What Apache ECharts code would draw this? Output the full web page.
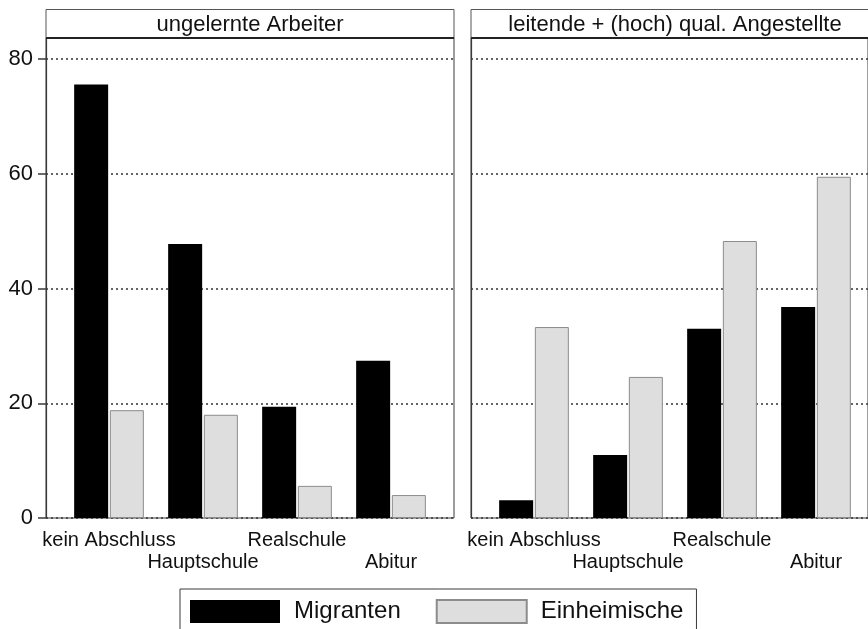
<!DOCTYPE html>
<html>
<head>
<meta charset="utf-8">
<script src="https://cdn.jsdelivr.net/npm/echarts@6/dist/echarts.min.js"></script>
<style>html,body{margin:0;padding:0;background:#fff}#c{width:868px;height:629px}</style>
</head>
<body>
<div id="c"></div>
<script>
const categories = ['kein Abschluss', 'Hauptschule', 'Realschule', 'Abitur'];
const panelTitles = ['ungelernte Arbeiter', 'leitende + (hoch) qual. Angestellte'];
const seriesNames = ['Migranten', 'Einheimische'];
const migrantenLeft = [75.6, 47.8, 19.4, 27.4];
const einheimischeLeft = [18.8, 18.0, 5.6, 4.0];
const migrantenRight = [3.1, 11.0, 33.0, 36.8];
const einheimischeRight = [33.3, 24.6, 48.3, 59.5];
const yTicks = [0, 20, 40, 60, 80];
const yMax = 83.7;

const FONT = "'Liberation Sans', Arial, sans-serif";
const frameColor = '#3a3a3a';
const chart = echarts.init(document.getElementById('c'), null, {renderer: 'canvas'});

const panelLeft = [46, 471];
const panelWidth = 408;
const dataInset = 16;
const gridTop = 38, gridBottom = 111;

const grids = [];
const xAxes = [];
const yAxes = [];
// background frame grids
panelLeft.forEach((l, i) => {
  grids.push({left: l, width: panelWidth, top: gridTop, bottom: gridBottom, show: true, borderColor: frameColor, borderWidth: 1, backgroundColor: 'transparent', containLabel: false});
  xAxes.push({type: 'value', gridIndex: i, min: 0, max: 1, show: false});
  yAxes.push({
    type: 'value', gridIndex: i, min: 0, max: yMax, interval: 20,
    axisLine: {show: true, lineStyle: {color: frameColor, width: 1.2}},
    axisTick: {show: i === 0, length: 8, inside: false, lineStyle: {color: frameColor, width: 1.5}, customValues: yTicks},
    axisLabel: {show: i === 0, fontSize: 22, fontFamily: FONT, color: '#111', margin: 13, customValues: yTicks},
    splitLine: {show: true, lineStyle: {color: '#333', type: [2, 3], width: 1.5}}
  });
});
// data grids
panelLeft.forEach((l, i) => {
  grids.push({left: l + dataInset, width: panelWidth - 2 * dataInset, top: gridTop, bottom: gridBottom, show: false, containLabel: false});
  xAxes.push({
    type: 'category', gridIndex: 2 + i, data: categories, boundaryGap: true,
    axisLine: {show: false}, axisTick: {show: false},
    axisLabel: {
      interval: 0, fontSize: 20, fontFamily: FONT, color: '#111', margin: 11, lineHeight: 22,
      formatter: (v, idx) => (idx % 2 ? '\n' + v : v)
    }
  });
  yAxes.push({type: 'value', gridIndex: 2 + i, min: 0, max: yMax, show: false, splitLine: {show: false}});
});

const blackStyle = {color: '#000', borderColor: '#000', borderWidth: 0};
const grayStyle = {color: '#dedede', borderColor: '#8c8c8c', borderWidth: 1};
const dataSets = [[migrantenLeft, einheimischeLeft], [migrantenRight, einheimischeRight]];
const series = [];
dataSets.forEach((pair, i) => {
  series.push({name: seriesNames[0], type: 'bar', xAxisIndex: 2 + i, yAxisIndex: 2 + i, data: pair[0], barWidth: 34, barGap: '5%', itemStyle: blackStyle, emphasis: {disabled: true}});
  series.push({name: seriesNames[1], type: 'bar', xAxisIndex: 2 + i, yAxisIndex: 2 + i, data: pair[1], barWidth: 34, barGap: '5%', itemStyle: grayStyle, emphasis: {disabled: true}});
});

const graphics = [];
panelLeft.forEach((l, i) => {
  graphics.push({type: 'rect', shape: {x: l, y: 9.5, width: panelWidth, height: 28.5}, style: {fill: '#fff', stroke: '#555', lineWidth: 1}, z: 10, silent: true});
  graphics.push({type: 'line', shape: {x1: l, y1: 38, x2: l + panelWidth, y2: 38}, style: {stroke: '#222', lineWidth: 2}, z: 11, silent: true});
  graphics.push({type: 'text', x: l + panelWidth / 2, y: 25, style: {text: panelTitles[i], font: '22px ' + FONT, fill: '#111', textAlign: 'center', textVerticalAlign: 'middle'}, z: 12, silent: true});
});

chart.setOption({
  animation: false,
  backgroundColor: '#fff',
  grid: grids,
  xAxis: xAxes,
  yAxis: yAxes,
  series: series,
  legend: {
    data: seriesNames,
    left: 180, top: 589,
    orient: 'horizontal',
    padding: [10, 13, 10, 10],
    itemWidth: 90, itemHeight: 23, itemGap: 35,
    icon: 'rect',
    borderColor: frameColor, borderWidth: 1,
    textStyle: {fontSize: 24, fontFamily: FONT, color: '#111', padding: [0, 0, 0, 9]},
    selectedMode: false
  },
  graphic: graphics
});
</script>
</body>
</html>
